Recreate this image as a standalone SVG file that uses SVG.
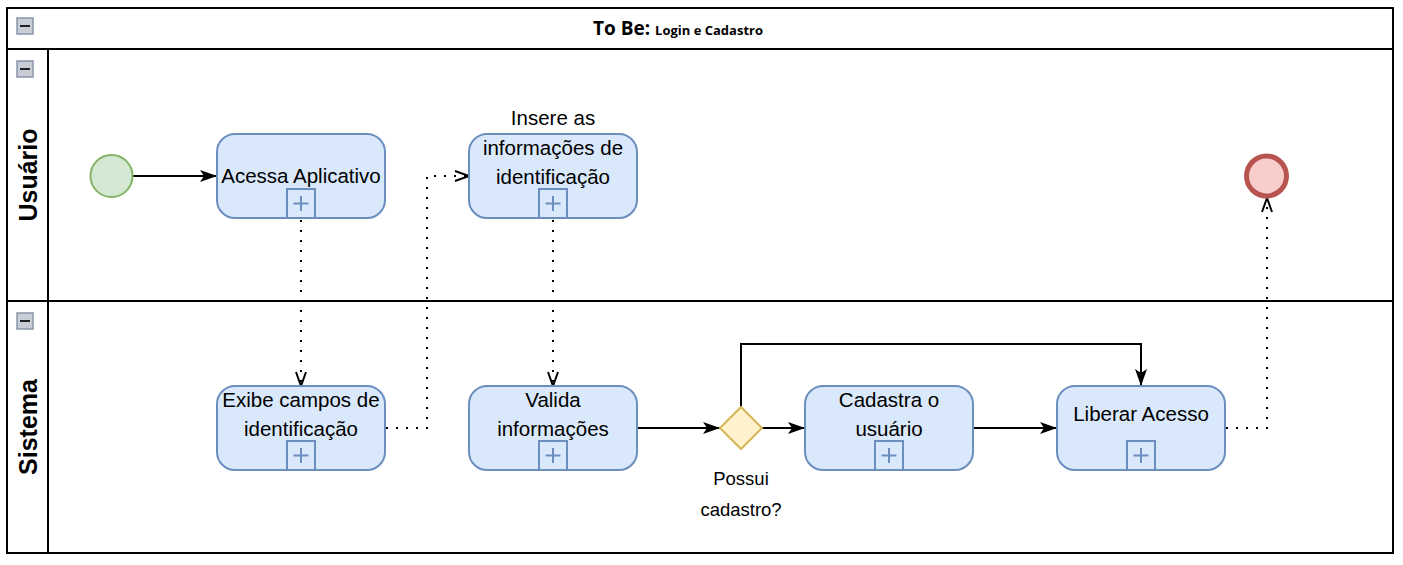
<svg xmlns="http://www.w3.org/2000/svg" width="1403" height="565" viewBox="0 0 1403 565">
<style>
.frame{fill:#fff;stroke:#000;stroke-width:2}
.icon{fill:#c9cdd6;stroke:#8a95aa;stroke-width:1.5}
.task{fill:#dae8fc;stroke:#6c8ebf;stroke-width:2}
.plus{fill:none;stroke:#6c8ebf;stroke-width:2}
.t{font-family:"Liberation Sans",Arial,sans-serif;font-size:20.5px;fill:#000;text-anchor:middle}
.g{font-family:"Liberation Sans",Arial,sans-serif;font-size:18.5px;fill:#000;text-anchor:middle}
.lane{font-family:"Liberation Sans",Arial,sans-serif;font-size:25px;font-weight:bold;fill:#000;text-anchor:middle}
.solid{fill:none;stroke:#000;stroke-width:2}
.dot{fill:none;stroke:#000;stroke-width:2;stroke-dasharray:2 8}
</style>
<defs>
<marker id="af" viewBox="0 0 17 12" refX="17" refY="6" markerWidth="17" markerHeight="12" markerUnits="userSpaceOnUse" orient="auto"><path d="M0,0 L17,6 L0,12 L4,6 Z" fill="#000"/></marker>
<marker id="ao" viewBox="0 0 16 12" refX="15" refY="6" markerWidth="16" markerHeight="12" markerUnits="userSpaceOnUse" orient="auto"><path d="M1,1 L15,6 L1,11" fill="none" stroke="#000" stroke-width="2"/></marker>
<g id="icn"><rect class="icon" x="0" y="0" width="16" height="16"/><rect x="3" y="7" width="10" height="2" fill="#222"/></g>
</defs>
<rect width="1403" height="565" fill="#fff"/>
<g id="pool">
<rect class="frame" x="7" y="8" width="1386" height="545"/>
<line x1="7" y1="49" x2="1393" y2="49" stroke="#000" stroke-width="2"/>
<line x1="48" y1="49" x2="48" y2="553" stroke="#000" stroke-width="2"/>
<line x1="7" y1="301" x2="1393" y2="301" stroke="#000" stroke-width="2"/>
<use href="#icn" x="17" y="18"/>
<text x="678" y="35" font-family="'Open Sans','Noto Sans',sans-serif" font-weight="bold" text-anchor="middle"><tspan font-size="19px">To Be: </tspan><tspan font-size="13px">Login e Cadastro</tspan></text>
</g>
<g id="lane-usuario">
<use href="#icn" x="17" y="61"/>
<text class="lane" transform="translate(37,175) rotate(-90)">Usuário</text>
</g>
<g id="lane-sistema">
<use href="#icn" x="17" y="313"/>
<text class="lane" transform="translate(37,427) rotate(-90)">Sistema</text>
</g>
<g id="connectors">
<line class="solid" x1="133" y1="176" x2="217" y2="176" marker-end="url(#af)"/>
<line class="dot" x1="301" y1="220" x2="301" y2="386" marker-end="url(#ao)"/>
<polyline class="dot" points="386,428 427,428 427,176 469,176" marker-end="url(#ao)"/>
<line class="dot" x1="553" y1="220" x2="553" y2="386" marker-end="url(#ao)"/>
<line class="solid" x1="637" y1="428" x2="720" y2="428" marker-end="url(#af)"/>
<line class="solid" x1="762" y1="428" x2="805" y2="428" marker-end="url(#af)"/>
<polyline class="solid" points="741,407 741,344 1141,344 1141,386" marker-end="url(#af)"/>
<line class="solid" x1="973" y1="428" x2="1057" y2="428" marker-end="url(#af)"/>
<polyline class="dot" points="1226,428 1267,428 1267,198" marker-end="url(#ao)"/>
</g>
<g id="start"><circle cx="111.5" cy="176" r="21" fill="#d5e8d4" stroke="#82b366" stroke-width="2"/></g>
<g id="end"><circle cx="1266.5" cy="176" r="20" fill="#f8cecc" stroke="#b85450" stroke-width="5"/></g>
<g id="t-acessa">
<rect class="task" x="217" y="134" width="168" height="84" rx="18"/>
<rect class="plus" x="287" y="189" width="28" height="29"/><path class="plus" d="M301,196 v15 M293.5,203.5 h15"/>
<text class="t" x="301" y="183">Acessa Aplicativo</text>
</g>
<g id="t-insere">
<rect class="task" x="469" y="134" width="168" height="84" rx="18"/>
<rect class="plus" x="539" y="189" width="28" height="29"/><path class="plus" d="M553,196 v15 M545.5,203.5 h15"/>
<text class="t" x="553" y="125">Insere as</text>
<text class="t" x="553" y="155">informações de</text>
<text class="t" x="553" y="184">identificação</text>
</g>
<g id="t-exibe">
<rect class="task" x="217" y="386" width="168" height="84" rx="18"/>
<rect class="plus" x="287" y="441" width="28" height="29"/><path class="plus" d="M301,448 v15 M293.5,455.5 h15"/>
<text class="t" x="301" y="407">Exibe campos de</text>
<text class="t" x="301" y="436">identificação</text>
</g>
<g id="t-valida">
<rect class="task" x="469" y="386" width="168" height="84" rx="18"/>
<rect class="plus" x="539" y="441" width="28" height="29"/><path class="plus" d="M553,448 v15 M545.5,455.5 h15"/>
<text class="t" x="553" y="407">Valida</text>
<text class="t" x="553" y="436">informações</text>
</g>
<g id="gateway">
<path d="M741,407 L762,428 L741,449 L720,428 Z" fill="#fff2cc" stroke="#d6b656" stroke-width="2"/>
<text class="g" x="741" y="485">Possui</text>
<text class="g" x="741" y="516">cadastro?</text>
</g>
<g id="t-cadastra">
<rect class="task" x="805" y="386" width="168" height="84" rx="18"/>
<rect class="plus" x="875" y="441" width="28" height="29"/><path class="plus" d="M889,448 v15 M881.5,455.5 h15"/>
<text class="t" x="889" y="407">Cadastra o</text>
<text class="t" x="889" y="436">usuário</text>
</g>
<g id="t-liberar">
<rect class="task" x="1057" y="386" width="168" height="84" rx="18"/>
<rect class="plus" x="1127" y="441" width="28" height="29"/><path class="plus" d="M1141,448 v15 M1133.5,455.5 h15"/>
<text class="t" x="1141" y="421">Liberar Acesso</text>
</g>
</svg>
